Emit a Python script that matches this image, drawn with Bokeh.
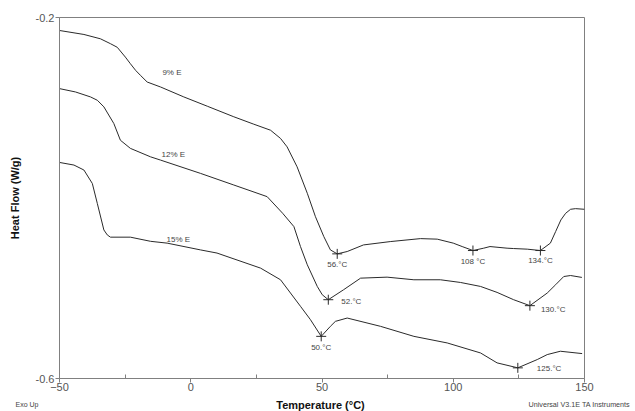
from bokeh.plotting import figure
from bokeh.layouts import column
from bokeh.models import Range1d, FixedTicker, ColumnDataSource
from bokeh.embed import file_html
from bokeh.resources import INLINE
from bokeh.core.properties import value

# ---- data ----
temp_9 = [-50, -40.7, -34.4, -30.6, -28, -24.9, -23, -21, -19.2, -16.6, -11.5, -2.65, 6.3, 16.4, 24, 30.4,
          34.2, 36.7, 40.5, 44.4, 47.5, 50.7, 53.2, 55.8, 59.6, 65.8, 76, 87.5, 93.9, 100, 103.4, 107.5,
          111.6, 114, 120.5, 123, 128.2, 133.2, 137, 139, 141, 142.8, 144.7, 146.6, 150]
hf_9 = [-0.2144, -0.2188, -0.2236, -0.229, -0.233, -0.2439, -0.2512, -0.2586, -0.264, -0.2715, -0.277, -0.288,
        -0.2983, -0.310, -0.3182, -0.3249, -0.334, -0.3433, -0.3654, -0.3948, -0.4207, -0.4428, -0.4575,
        -0.4619, -0.4593, -0.452, -0.4483, -0.445, -0.4456, -0.450, -0.4538, -0.4582, -0.4556, -0.4538,
        -0.4556, -0.456, -0.4567, -0.4582, -0.450, -0.4372, -0.4243, -0.417, -0.4125, -0.4118, -0.4125]

temp_12 = [-50, -43.9, -38.2, -35.6, -33.1, -29.3, -26.8, -23, -15.3, -11.5, 3.7, 16.4, 29.1, 35, 39.3, 41.8,
           44.4, 48.2, 50.1, 52.4, 58.2, 64.7, 74.8, 85, 95.1, 102.8, 110.4, 116.7, 123, 129.2, 135.8, 139,
           142.1, 144.7, 149]
hf_12 = [-0.2788, -0.2825, -0.288, -0.2917, -0.299, -0.3175, -0.336, -0.345, -0.3544, -0.358, -0.3727, -0.3856,
         -0.3985, -0.4169, -0.4317, -0.4538, -0.474, -0.498, -0.5072, -0.5127, -0.5017, -0.4888, -0.4877,
         -0.4906, -0.4906, -0.4936, -0.498, -0.5046, -0.5127, -0.5193, -0.5053, -0.4961, -0.487, -0.4859, -0.488]

temp_15 = [-50, -44.5, -40.7, -37.5, -35.6, -33.1, -31.8, -30.6, -23, -15.3, -9, 3.7, 10, 26.6, 34.2, 41.8,
           45.6, 49.7, 53.2, 55.1, 59.6, 72.3, 85, 97.7, 110.4, 116.7, 124.6, 132, 135.8, 140.8, 149.1]
hf_15 = [-0.3606, -0.3635, -0.369, -0.3839, -0.406, -0.4354, -0.4409, -0.4434, -0.4434, -0.448, -0.45, -0.4575,
         -0.461, -0.4777, -0.4906, -0.520, -0.5348, -0.5533, -0.5422, -0.5367, -0.533, -0.5422, -0.5533,
         -0.5606, -0.5717, -0.5827, -0.5882, -0.579, -0.5735, -0.5698, -0.5724]

peak_temp = [55.8, 107.5, 133.2, 52.4, 129.2, 49.7, 124.6]
peak_hf = [-0.4619, -0.4582, -0.4582, -0.5127, -0.5193, -0.5533, -0.5882]
peak_text = ["56.°C", "108 °C", "134.°C", "52.°C", "130.°C", "50.°C", "125.°C"]

series_names = ["9% E", "12% E", "15% E"]
name_temp = [-10.8, -11.1, -9.2]
name_hf = [-0.2613, -0.3514, -0.4456]

x_ticks = [-50, 0, 50, 100, 150]
x_minor = [-25, 25, 75, 125]
y_ticks = [-0.6, -0.2]

x_title = "Temperature (°C)"
y_title = "Heat Flow (W/g)"
foot_left = "Exo Up"
foot_right = "Universal V3.1E TA Instruments"

# ---- layout / style ----
label_dx = [0, 0, 0, 13, 11, 0, 19]
label_dy = [11, 11, 10, 2, 4, 11, 1]
label_align = ["center", "center", "center", "left", "left", "center", "left"]

LINE = "#2a2a2a"
AX = "#808080"
FONT = "Liberation Sans"
W = 635

p = figure(width=W, height=396, output_backend="svg", toolbar_location=None,
           x_range=Range1d(-50, 150), y_range=Range1d(-0.6, -0.2),
           min_border_left=59, min_border_right=51, min_border_top=17, min_border_bottom=18)
p.grid.visible = False
p.background_fill_color = "white"
p.border_fill_color = "white"
p.outline_line_color = AX
p.outline_line_width = 1

for t, h in [(temp_9, hf_9), (temp_12, hf_12), (temp_15, hf_15)]:
    p.line(t, h, line_color=LINE, line_width=1)

p.scatter(peak_temp, peak_hf, marker="cross", size=10, line_color=LINE, line_width=1)

src = ColumnDataSource(dict(x=peak_temp, y=peak_hf, t=peak_text, dx=label_dx, dy=label_dy, al=label_align))
p.text(x="x", y="y", text="t", x_offset="dx", y_offset="dy", text_align="al", source=src,
       text_baseline="middle", text_font=value(FONT), text_font_size="8px", text_color="#444444")

p.text(name_temp, name_hf, text=series_names, text_align="left", text_baseline="middle",
       text_font=value(FONT), text_font_size="8px", text_color="#444444")

xa = p.xaxis[0]
xa.ticker = FixedTicker(ticks=x_ticks, minor_ticks=x_minor)
ya = p.yaxis[0]
ya.ticker = FixedTicker(ticks=y_ticks, minor_ticks=[])
ya.axis_label = y_title
ya.major_label_overrides = {-0.6: "-0.6", -0.2: "-0.2"}

for ax in (xa, ya):
    ax.axis_line_color = AX
    ax.major_tick_line_color = AX
    ax.minor_tick_line_color = AX
    ax.major_tick_out = 4
    ax.major_tick_in = 0
    ax.minor_tick_out = 0
    ax.minor_tick_in = 4
    ax.major_label_text_font = FONT
    ax.major_label_text_font_size = "11px"
    ax.major_label_text_color = "#555555"
    ax.axis_label_text_font = FONT
    ax.axis_label_text_font_size = "11px"
    ax.axis_label_text_font_style = "bold"
    ax.axis_label_text_color = "#111111"
xa.major_label_standoff = 0
ya.major_label_standoff = 1
ya.axis_label_standoff = 12

# footer strip: x title and instrument notes, one row below the tick labels
foot = figure(width=W, height=15, output_backend="svg", toolbar_location=None,
              x_range=Range1d(0, W), y_range=Range1d(0, 15),
              min_border=0, x_axis_type=None, y_axis_type=None)
foot.grid.visible = False
foot.outline_line_color = None
try:
    foot.frame_align = False
    p.frame_align = False
except AttributeError:
    pass
foot.text([15], [7], text=[foot_left], text_align="left", text_baseline="middle",
          text_font=value(FONT), text_font_size="7px", text_color="#444444")
foot.text([320], [7], text=[x_title], text_align="center", text_baseline="middle",
          text_font=value(FONT), text_font_size="11px", text_font_style="bold", text_color="#111111")
foot.text([528], [7], text=[foot_right], text_align="left", text_baseline="middle",
          text_font=value(FONT), text_font_size="7.2px", text_color="#444444")

layout = column(p, foot, spacing=0)
open("out.html", "w").write(file_html(layout, INLINE))
